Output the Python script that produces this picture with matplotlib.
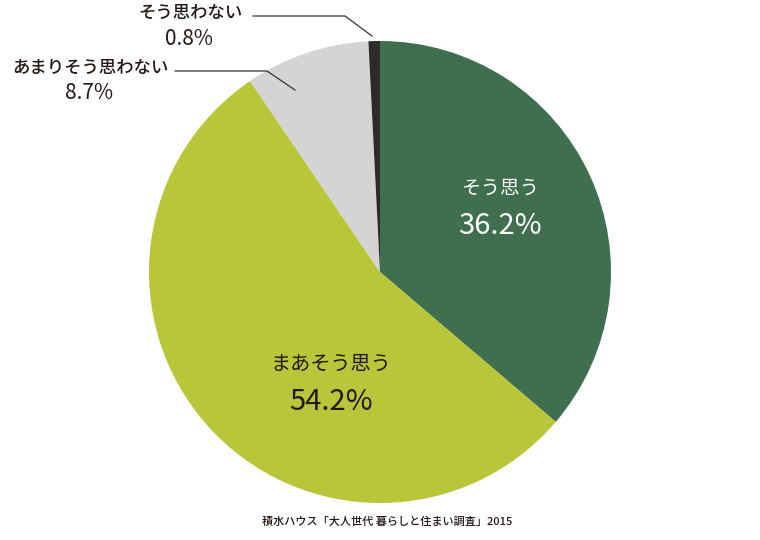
import matplotlib
matplotlib.use("Agg")
import matplotlib.pyplot as plt
import numpy as np

plt.rcParams['font.family'] = ['Noto Sans CJK JP', 'DejaVu Sans']

labels = ["そう思う", "まあそう思う", "あまりそう思わない", "そう思わない"]
values = [36.2, 54.2, 8.7, 0.8]
colors = ["#3f6f4f", "#b9c63a", "#d4d4d4", "#2b2b2b"]
source = "積水ハウス「大人世代 暮らしと住まい調査」2015"

W, H = 760, 540
fig = plt.figure(figsize=(7.6, 5.4), dpi=100)
ax = fig.add_axes([0, 0, 1, 1])

cx, cy, R = 380, H - 272, 231
wedges, _ = ax.pie(values, colors=colors, startangle=90, counterclock=False,
                   center=(cx, cy), radius=R, frame=True,
                   wedgeprops=dict(linewidth=0))
ax.set_xlim(0, W)
ax.set_ylim(0, H)
ax.set_aspect('equal')
ax.axis('off')

def py(y):
    return H - y

dark = '#231815'
# inside labels
ax.text(500, py(188), labels[0], color='white', fontsize=14, ha='center', va='center')
ax.text(500, py(226), f"{values[0]}%", color='white', fontsize=21, ha='center', va='center')
ax.text(331, py(364), labels[1], color=dark, fontsize=14.5, ha='center', va='center')
ax.text(331, py(402), f"{values[1]}%", color=dark, fontsize=21, ha='center', va='center')

# outside labels
ax.text(190, py(13), labels[3], color=dark, fontsize=12.5, fontweight='medium', ha='center', va='center')
ax.text(189, py(39), f"{values[3]}%", color=dark, fontsize=15, ha='center', va='center')
ax.text(90, py(68), labels[2], color=dark, fontsize=12.5, fontweight='medium', ha='center', va='center')
ax.text(89, py(93), f"{values[2]}%", color=dark, fontsize=15, ha='center', va='center')

# leader lines
ax.plot([253, 345, 372], [py(16), py(16), py(36)], color='#333333', lw=0.9)
ax.plot([175, 267, 295], [py(71), py(71), py(90)], color='#333333', lw=0.9)

ax.text(387, py(522), source, color=dark, fontsize=8, fontweight='medium', ha='center', va='center')

fig.savefig("out.png", dpi=100)
